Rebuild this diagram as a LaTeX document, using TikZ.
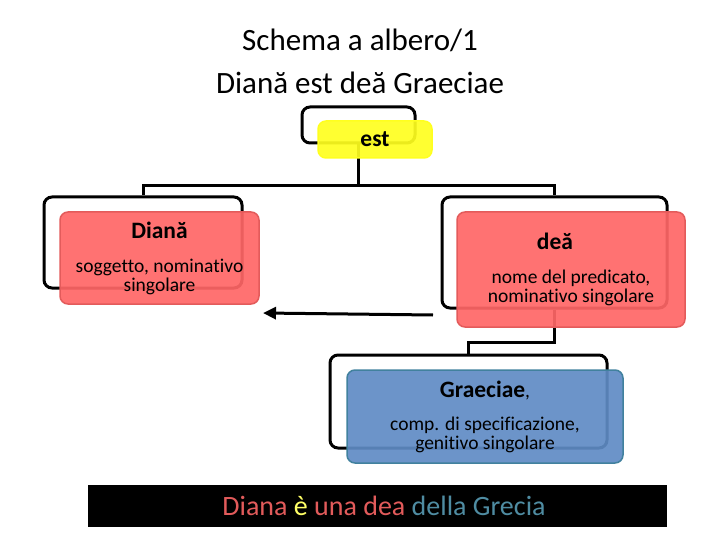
\documentclass[tikz,border=0pt]{standalone}
\usepackage{fontspec}
\setmainfont[Ligatures={TeX,NoCommon}]{Carlito}
\usetikzlibrary{arrows.meta, positioning, calc}
\definecolor{alRosso}{HTML}{FF6666}
\definecolor{alRossoBordo}{HTML}{E35B5B}
\definecolor{alBlu}{HTML}{5F8BC4}
\definecolor{alBluBordo}{HTML}{41819E}
\definecolor{alGiallo}{HTML}{FFFF1F}
\definecolor{alTestoRosso}{HTML}{E25B5B}
\definecolor{alTestoGiallo}{HTML}{FFFF66}
\definecolor{alTestoBlu}{HTML}{4F8CA2}
\newcommand{\voce}[1]{{\fontsize{23.5}{19}\selectfont\bfseries #1}}

\begin{document}
\begin{tikzpicture}[x=1pt, y=-1pt]
  \tikzset{
    cornice/.style 2 args={draw=black, line width=3pt, rounded corners=8pt,
                minimum width=#1, minimum height=#2, inner sep=0pt},
    casella/.style 2 args={rounded corners=8pt, line width=1.5pt, fill opacity=0.92,
                text opacity=1, minimum width=#1, minimum height=#2, inner sep=0pt,
                align=center, font=\fontsize{19.5}{19}\selectfont},
    rossa/.style={fill=alRosso, draw=alRossoBordo},
    blu/.style={fill=alBlu, draw=alBluBordo},
    ramo/.style={line width=3pt}}
  \useasboundingbox (0,0) rectangle (720,540);
  % titolo
  \node[align=center, font=\fontsize{31}{43}\selectfont] (titolo) at (360,61)
    {Schema a albero/1\\Diană est deă Graeciae};
  % cornici
  \node[cornice={113pt}{36pt}] (cest) at (358.5,125) {};
  \node[cornice={198pt}{91pt}] (cdiana) at (143,242.5) {};
  \node[cornice={225pt}{111pt}] (cdea) at (554.5,252.5) {};
  \node[cornice={277pt}{93pt}] (cgrec) at (468.5,401.5) {};
  % rami
  \draw[ramo] (cest.south) -- ++(0,41) -| (cdiana.north);
  \draw[ramo] (cest.south) -- ++(0,41) -| (cdea.north);
  \draw[ramo] (cdea.south) -- ++(0,33) -| (cgrec.north);
  % caselle
  \node[casella={114pt}{37pt}, fill=alGiallo, draw=alGiallo] (est) at (375,139.5) {\voce{est}};
  \node[casella={199pt}{92pt}, rossa] (diana) at (159.5,258)
    {\voce{Diană}\\[15pt]soggetto, nominativo\\singolare};
  \node[casella={228pt}{115pt}, rossa] (dea) at (571,269.5)
    {\voce{deă}\rule{32pt}{0pt}\\[15pt]nome del predicato,\\nominativo singolare};
  \node[casella={276pt}{93pt}, blu] (grec) at (485,416.5)
    {\voce{Graeciae},\\[14pt]comp. di specificazione,\\genitivo singolare};
  % freccia
  \coordinate (frDa) at (433,315);
  \coordinate (frA) at (263,313);
  \draw[line width=3pt, -{Triangle[length=13pt, width=12pt]}] (frDa) -- (frA);
  % traduzione
  \node[fill=black, minimum width=579pt, minimum height=42pt, inner sep=0pt,
        font=\fontsize{28}{30}\selectfont] (frase) at (377.5,506)
    {\hspace*{13pt}\textcolor{alTestoRosso}{Diana} \textcolor{alTestoGiallo}{è}
     \textcolor{alTestoRosso}{una dea} \textcolor{alTestoBlu}{della Grecia}};
\end{tikzpicture}
\end{document}
